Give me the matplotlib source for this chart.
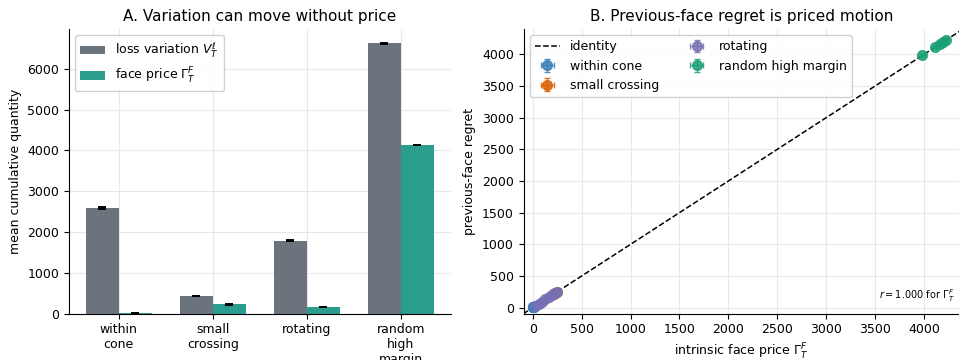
import matplotlib
matplotlib.use("Agg")
import matplotlib.pyplot as plt
import numpy as np

# ---- data ----
categories = ["within\ncone", "small\ncrossing", "rotating", "random\nhigh\nmargin"]
loss_variation = [2590, 430, 1790, 6620]
loss_variation_err = [25, 10, 15, 20]
face_price = [5, 228, 160, 4130]
face_price_err = [2, 8, 6, 10]

regimes = ["within cone", "small crossing", "rotating", "random high margin"]
regime_colors = ["#377eb8", "#d95f02", "#7570b3", "#1b9e77"]
within_x = [2, 4, 5, 6, 8]
within_y = [2, 4, 5, 6, 8]
small_x = [205, 218, 230, 242]
small_y = [207, 220, 231, 244]
rot_x = [22, 58, 92, 128, 162, 196, 226, 248]
rot_y = [23, 60, 94, 129, 163, 198, 228, 250]
rand_x = [3985, 4110, 4170, 4200, 4225]
rand_y = [3984, 4112, 4168, 4203, 4226]
pt_err = 12

fig = plt.figure(figsize=(9.59, 3.6), dpi=100)
axA = fig.add_axes([0.072, 0.129, 0.398, 0.790])
axB = fig.add_axes([0.546, 0.129, 0.454, 0.790])

# ---- panel A ----
x = np.arange(len(categories))
w = 0.35
axA.bar(x - w / 2, loss_variation, w, yerr=loss_variation_err, color="#6b737c",
        capsize=3, error_kw=dict(elinewidth=1, capthick=1.4), label=r"loss variation $V^{\ell}_{T}$", zorder=2)
axA.bar(x + w / 2, face_price, w, yerr=face_price_err, color="#2a9d8f",
        capsize=3, error_kw=dict(elinewidth=1, capthick=1.4), label=r"face price $\Gamma^{F}_{T}$", zorder=2)
axA.set_xticks(x)
axA.set_xticklabels(categories, fontsize=9)
axA.set_ylabel("mean cumulative quantity", fontsize=9)
axA.set_title("A. Variation can move without price", fontsize=11)
axA.set_xlim(-0.53, 3.53)
axA.set_ylim(0, 6970)
axA.tick_params(labelsize=9)
axA.grid(True, color="#e8e8e8", linewidth=0.8, zorder=0)
axA.set_axisbelow(True)
axA.legend(loc="upper left", fontsize=9, framealpha=0.9, edgecolor="#cccccc")
for s in ["top", "right"]:
    axA.spines[s].set_visible(False)

# ---- panel B ----
lo, hi = -100, 4400
axB.plot([lo, hi], [lo, hi], "k--", linewidth=1.1, label="identity", zorder=3)
data = [(within_x, within_y), (small_x, small_y), (rot_x, rot_y), (rand_x, rand_y)]
for (xs, ys), name, c in zip(data, regimes, regime_colors):
    axB.errorbar(xs, ys, xerr=pt_err, yerr=pt_err, fmt="o", color=c, ms=7,
                 alpha=0.85, capsize=2, elinewidth=0.8, label=name, zorder=4)
axB.set_xlim(-95, 4360)
axB.set_ylim(-95, 4400)
axB.set_xticks(np.arange(0, 4001, 500))
axB.set_yticks(np.arange(0, 4001, 500))
axB.tick_params(labelsize=9)
axB.set_xlabel(r"intrinsic face price $\Gamma^{F}_{T}$", fontsize=9)
axB.set_ylabel("previous-face regret", fontsize=9)
axB.set_title("B. Previous-face regret is priced motion", fontsize=11)
axB.grid(True, color="#e8e8e8", linewidth=0.8, zorder=0)
axB.set_axisbelow(True)
axB.legend(loc="upper left", ncol=2, fontsize=9, framealpha=0.9, edgecolor="#cccccc")
axB.text(0.99, 0.035, r"$r = 1.000$ for $\Gamma^{F}_{T}$", transform=axB.transAxes,
         ha="right", va="bottom", fontsize=7)
for s in ["top", "right"]:
    axB.spines[s].set_visible(False)

fig.savefig("out.png", dpi=100)
